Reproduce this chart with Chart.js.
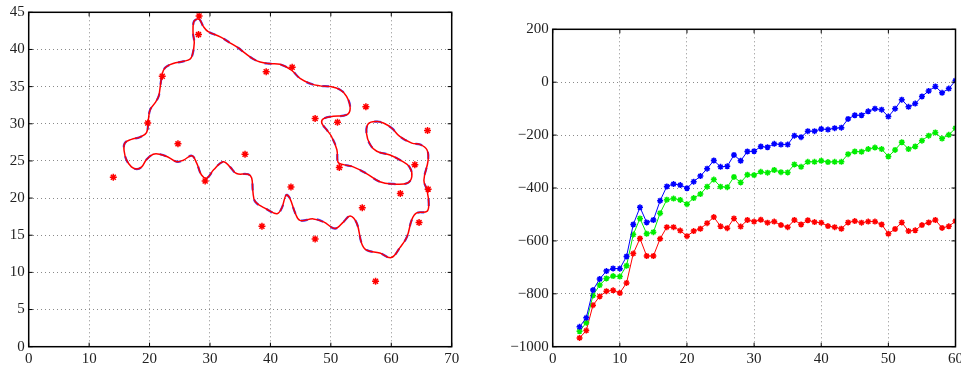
<!DOCTYPE html>
<html>
<head>
<meta charset="utf-8">
<script src="https://cdn.jsdelivr.net/npm/chart.js@4.4.1/dist/chart.umd.min.js"></script>
<style>
  body { margin: 0; background: #fff; }
  #wrap { position: relative; width: 961px; height: 366px; }
  #left { position: absolute; left: 0; top: 0; }
  #right { position: absolute; left: 480px; top: 0; }
</style>
</head>
<body>
<div id="wrap">
  <canvas id="left" width="480" height="366"></canvas>
  <canvas id="right" width="481" height="366"></canvas>
</div>
<script>
// left panel: closed contour (traced) + measured points
var curveX = [27.8, 27.3, 27.2, 27.4, 27.1, 26.7, 25.6, 23.9, 22.8, 22.3, 22.0, 21.7, 21.5, 20.9, 20.1, 19.8, 19.5, 18.4, 17.0, 15.9,
  15.8, 16.2, 17.0, 17.9, 18.7, 19.5, 20.6, 21.7, 23.1, 24.5, 25.6, 27.0, 27.8, 28.6, 29.5, 30.6, 32.2, 33.3, 34.4, 36.3,
  36.9, 37.1, 37.5, 39.4, 41.1, 41.9, 42.6, 43.2, 44.1, 44.9, 47.1, 48.8, 50.7, 52.1, 53.2, 54.3, 55.1, 55.9, 58.1, 60.0,
  61.4, 62.6, 63.4, 64.2, 65.9, 66.2, 65.9, 65.4, 66.1, 65.9, 64.8, 63.4, 61.4, 60.1, 58.7, 57.6, 56.2, 55.9, 56.5, 57.6,
  59.8, 61.7, 63.0, 63.4, 62.6, 60.3, 58.1, 55.9, 53.7, 52.1, 51.2, 51.0, 50.1, 49.3, 48.5, 48.8, 50.4, 52.6, 53.2, 52.6,
  51.5, 49.9, 48.2, 46.6, 44.9, 43.5, 41.6, 39.7, 38.3, 37.2, 35.8, 34.7, 33.3, 31.7, 29.7, 28.9, 28.3, 27.8];
var curveY = [44.1, 43.7, 42.2, 40.9, 39.3, 38.7, 38.4, 38.1, 37.7, 37.2, 36.3, 34.6, 33.7, 32.8, 31.9, 30.5, 28.8, 28.2, 27.9, 27.4,
  26.3, 25.1, 24.2, 23.9, 24.2, 25.2, 25.9, 25.9, 25.5, 24.9, 25.1, 25.7, 24.7, 23.1, 22.7, 23.8, 24.9, 24.2, 23.3, 23.2,
  22.7, 20.9, 19.5, 18.5, 17.9, 18.7, 20.4, 20.0, 18.0, 17.0, 17.2, 16.8, 15.9, 16.8, 17.6, 16.6, 13.9, 13.0, 12.6, 12.0,
  13.3, 14.8, 17.1, 18.0, 18.2, 19.3, 21.1, 22.4, 25.1, 26.5, 27.2, 27.4, 28.3, 29.4, 30.1, 30.3, 30.0, 28.7, 27.2, 26.3,
  25.8, 25.0, 24.2, 22.9, 22.0, 21.9, 22.2, 23.3, 24.2, 24.5, 24.8, 26.5, 28.3, 29.2, 30.1, 30.7, 31.0, 31.2, 32.1, 33.7,
  34.6, 35.0, 35.1, 35.4, 36.1, 37.2, 38.0, 38.1, 38.3, 38.7, 39.5, 40.2, 40.9, 41.7, 42.4, 43.1, 44.0, 44.1];
var starX = [14.0, 19.7, 22.1, 28.2, 28.1, 24.7, 29.2, 39.3, 43.6, 47.4, 51.1, 55.8, 66.0, 35.8, 51.4, 63.9, 66.1, 43.4, 38.6, 47.4, 55.2, 57.4, 61.5, 64.6];
var starY = [22.8, 30.1, 36.4, 44.5, 42.0, 27.3, 22.3, 37.0, 37.6, 30.7, 30.2, 32.3, 29.1, 25.9, 24.1, 24.5, 21.2, 21.5, 16.2, 14.5, 18.7, 8.8, 20.6, 16.7];
var leftXTicks = [0, 10, 20, 30, 40, 50, 60, 70];
var leftYTicks = [0, 5, 10, 15, 20, 25, 30, 35, 40, 45];

// right panel: three series over steps 4..60
var steps = [];
for (var s = 4; s <= 60; s++) steps.push(s);
var blueVals = [-925, -891, -786, -744, -714, -704, -705, -659, -538, -473, -530, -521, -448, -394, -385, -389, -401, -376, -355, -327,
  -296, -320, -318, -275, -297, -262, -261, -243, -246, -233, -236, -236, -202, -208, -185, -185, -177, -179, -174, -172,
  -139, -125, -125, -110, -100, -104, -130, -100, -66, -93, -81, -54, -33, -16, -40, -24, 6];
var greenVals = [-942, -909, -806, -767, -742, -733, -735, -694, -576, -515, -573, -567, -495, -444, -440, -445, -461, -438, -423, -395,
  -368, -395, -397, -358, -379, -350, -351, -339, -342, -332, -340, -341, -311, -320, -301, -301, -297, -302, -301, -301,
  -272, -262, -263, -253, -247, -253, -281, -256, -227, -253, -243, -221, -202, -190, -213, -199, -174];
var redVals = [-967, -939, -843, -810, -790, -787, -797, -759, -648, -591, -657, -657, -592, -548, -548, -561, -582, -563, -554, -533,
  -510, -545, -552, -515, -546, -521, -527, -520, -531, -527, -540, -548, -521, -538, -522, -529, -531, -544, -548, -554,
  -530, -525, -531, -527, -527, -538, -573, -555, -530, -563, -560, -540, -530, -521, -551, -545, -525];
var rightXTicks = [0, 10, 20, 30, 40, 50, 60];
var rightYTicks = [-1000, -800, -600, -400, -200, 0, 200];

var tickFont = { family: "'Liberation Serif', 'DejaVu Serif', serif", size: 15 };

const toPts = (xs, ys) => xs.map((x, i) => ({ x: x, y: ys[i] }));

// matlab-like box with inward ticks
var boxPlugin = {
  id: 'box',
  afterDraw(chart) {
    var ctx = chart.ctx, a = chart.chartArea, sx = chart.scales.x, sy = chart.scales.y;
    ctx.save();
    ctx.strokeStyle = '#000';
    ctx.lineWidth = 1;
    ctx.beginPath();
    sx.ticks.forEach(function (t) {
      var px = sx.getPixelForValue(t.value);
      ctx.moveTo(px, a.bottom); ctx.lineTo(px, a.bottom - 4);
      ctx.moveTo(px, a.top); ctx.lineTo(px, a.top + 4);
    });
    sy.ticks.forEach(function (t) {
      var py = sy.getPixelForValue(t.value);
      ctx.moveTo(a.left, py); ctx.lineTo(a.left + 4, py);
      ctx.moveTo(a.right, py); ctx.lineTo(a.right - 4, py);
    });
    ctx.stroke();
    ctx.lineWidth = 1.5;
    ctx.strokeRect(a.left, a.top, a.right - a.left, a.bottom - a.top);
    ctx.restore();
  }
};

function axis(min, max, tickVals, fitW, fitH, isX) {
  return {
    type: 'linear',
    min: min,
    max: max,
    afterBuildTicks: function (sc) { sc.ticks = tickVals.map(function (v) { return { value: v }; }); },
    afterFit: function (sc) {
      if (isX) sc.height = fitH; else sc.width = fitW;
      sc.paddingLeft = 0; sc.paddingRight = 0; sc.paddingTop = 0; sc.paddingBottom = 0;
    },
    grid: { color: '#8a8a8a', lineWidth: 1, drawTicks: false },
    border: { display: false, dash: [1, 3] },
    ticks: {
      font: tickFont,
      color: '#222',
      padding: isX ? 3 : 4,
      maxRotation: 0,
      autoSkip: false,
      callback: function (v) { return v < 0 ? '\u2212' + Math.abs(v) : '' + v; }
    }
  };
}

function init_left() {
  var ctx = document.getElementById('left').getContext('2d');
  new Chart(ctx, {
    type: 'scatter',
    data: {
      datasets: [
        {
          data: toPts(starX, starY),
          showLine: false,
          pointStyle: 'star',
          pointRadius: 3.5,
          borderColor: '#ff0000',
          backgroundColor: '#ff0000',
          borderWidth: 1.5,
        },
        {
          data: toPts(curveX, curveY),
          showLine: true,
          borderColor: '#ff0000',
          borderWidth: 1.5,
          pointRadius: 0,
          tension: 0.4,
        },
        {
          data: toPts(curveX, curveY),
          showLine: true,
          borderColor: '#4040ff',
          borderWidth: 2.2,
          borderDash: [7, 9],
          pointRadius: 0,
          tension: 0.4,
        },
      ],
    },
    options: {
      responsive: false,
      animation: false,
      devicePixelRatio: 1,
      layout: { padding: { top: 12.3, right: 28.3, left: 0, bottom: 0 } },
      plugins: { legend: { display: false }, tooltip: { enabled: false } },
      scales: {
        x: axis(0, 70, leftXTicks, 0, 19.3, true),
        y: axis(0, 45, leftYTicks, 28.7, 0, false),
      },
    },
    plugins: [boxPlugin],
  });
}

function series(vals, color) {
  return {
    data: toPts(steps, vals),
    showLine: true,
    borderColor: color,
    backgroundColor: color,
    borderWidth: 1,
    pointStyle: 'star',
    pointRadius: 3,
    pointBorderWidth: 1.5,
    tension: 0,
  };
}

function init_right() {
  var ctx = document.getElementById('right').getContext('2d');
  new Chart(ctx, {
    type: 'scatter',
    data: {
      datasets: [
        series(blueVals, '#0000ff'),
        series(greenVals, '#00ee00'),
        series(redVals, '#ff0000'),
      ],
    },
    options: {
      responsive: false,
      animation: false,
      devicePixelRatio: 1,
      layout: { padding: { top: 29.3, right: 4.5, left: 0, bottom: 0 } },
      plugins: { legend: { display: false }, tooltip: { enabled: false } },
      scales: {
        x: axis(0, 60, rightXTicks, 0, 19.3, true),
        y: axis(-1000, 200, rightYTicks, 72.7, 0, false),
      },
    },
    plugins: [boxPlugin],
  });
}

init_left();
init_right();
</script>
</body>
</html>
